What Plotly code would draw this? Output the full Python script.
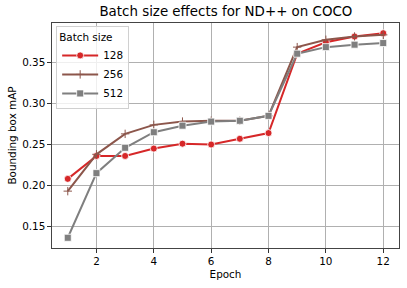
import plotly.graph_objects as go

epochs = list(range(1, 13))
bs128 = [0.208, 0.236, 0.236, 0.245, 0.251, 0.250, 0.257, 0.264, 0.361, 0.375, 0.382, 0.386]
bs256 = [0.193, 0.238, 0.263, 0.274, 0.278, 0.279, 0.279, 0.285, 0.369, 0.378, 0.382, 0.384]
bs512 = [0.136, 0.215, 0.246, 0.265, 0.273, 0.278, 0.279, 0.285, 0.361, 0.369, 0.372, 0.374]
series = [("128", bs128, "#d62728", "circle", 7), ("256", bs256, "#8c564b", "cross-thin", 6), ("512", bs512, "#7f7f7f", "square", 7)]

fig = go.Figure()
for name, vals, col, sym, sz in series:
    mk = dict(symbol=sym, size=sz, color=col, line=dict(color="white", width=0.8))
    if sym == "cross-thin":
        mk = dict(symbol=sym, size=sz, color=col, line=dict(color=col, width=1))
    fig.add_trace(go.Scatter(x=epochs, y=vals, name=name, mode="lines+markers",
                             line=dict(color=col, width=2), marker=mk))

font = "DejaVu Sans"
fig.update_layout(
    width=407, height=288, template=None,
    paper_bgcolor="white", plot_bgcolor="white",
    margin=dict(l=52, r=8, t=23, b=40, autoexpand=False),
    font=dict(family=font, size=10.4, color="black"),
    title=dict(text="Batch size effects for ND++ on COCO", x=0.555, xanchor="center",
               y=1 - 11.5/288, yanchor="middle", font=dict(size=13.4)),
    showlegend=True,
    legend=dict(title=dict(text="Batch size", font=dict(size=10.4)), x=0.012, y=0.985,
                xanchor="left", yanchor="top", bgcolor="rgba(255,255,255,0.8)",
                bordercolor="#d0d0d0", borderwidth=1, font=dict(size=10.4),
                tracegroupgap=0, itemwidth=36),
)
fig.update_xaxes(range=[0.45, 12.55], tickvals=[2, 4, 6, 8, 10, 12], ticks="outside",
                 ticklen=3.5, tickcolor="#333", showgrid=True, gridcolor="#b0b0b0", gridwidth=1,
                 showline=True, linecolor="#444", linewidth=1.2, mirror=True, zeroline=False,
                 automargin=False,
                 title=dict(text="Epoch", font=dict(size=10.4), standoff=4))
fig.update_yaxes(range=[0.1235, 0.3985], tickvals=[0.15, 0.20, 0.25, 0.30, 0.35],
                 tickformat=".2f", ticks="outside", ticklen=3.5, tickcolor="#333",
                 showgrid=True, gridcolor="#b0b0b0", gridwidth=1,
                 showline=True, linecolor="#444", linewidth=1.2, mirror=True, zeroline=False,
                 automargin=False,
                 title=dict(text="Bounding box mAP", font=dict(size=10.4), standoff=3))
fig.write_html("out.html", config={"displayModeBar": False},
               post_script="document.body.style.margin='0';")
